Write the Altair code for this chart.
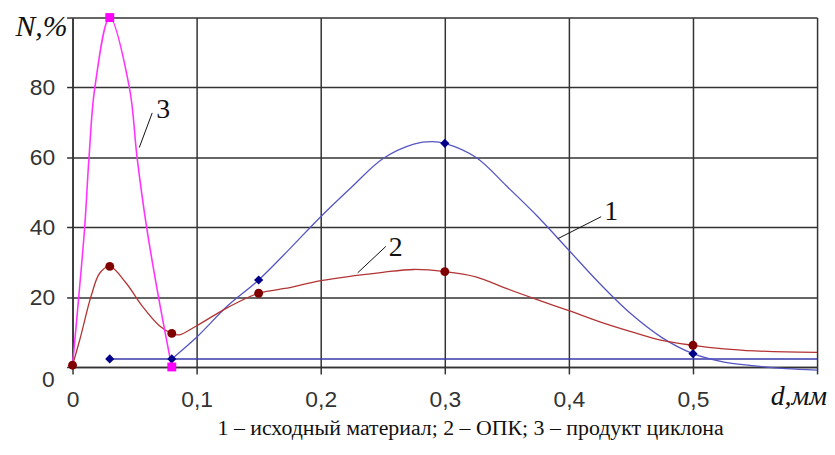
import altair as alt
import pandas as pd

# --- data points (markers) ---
d_pts1 = [0.03, 0.08, 0.15, 0.3, 0.5]
n_pts1 = [2.3, 2.3, 24.9, 64.0, 3.8]
d_pts2 = [0.0, 0.03, 0.08, 0.15, 0.3, 0.5]
n_pts2 = [0.5, 28.8, 9.6, 21.1, 27.3, 6.2]
d_pts3 = [0.03, 0.08]
n_pts3 = [100.0, 0.0]

# --- smooth curves ---
d_curve1 = [0.08, 0.1, 0.125, 0.15, 0.175, 0.2, 0.225, 0.25, 0.275, 0.29, 0.3,
            0.325, 0.35, 0.375, 0.4, 0.425, 0.45, 0.475, 0.5, 0.525, 0.55, 0.575, 0.6]
n_curve1 = [2.3, 8.5, 17.5, 24.9, 33.8, 43.0, 51.5, 59.6, 63.8, 64.5, 64.0,
            60.0, 51.7, 43.0, 33.4, 23.8, 15.2, 8.4, 3.8, 1.4, 0.3, -0.5, -0.9]
d_flat1 = [0.03, 0.6]
n_flat1 = [2.3, 2.3]

d_curve2 = [0.0, 0.006, 0.015, 0.022, 0.03, 0.043, 0.056, 0.07, 0.08, 0.086, 0.1,
            0.125, 0.15, 0.175, 0.2, 0.25, 0.275, 0.3, 0.325, 0.35, 0.375, 0.4,
            0.425, 0.45, 0.475, 0.5, 0.525, 0.55, 0.575, 0.6]
n_curve2 = [0.5, 8.0, 20.3, 26.9, 28.8, 24.1, 17.5, 11.8, 9.6, 9.2, 11.8,
            17.0, 21.1, 22.7, 24.7, 27.1, 27.9, 27.3, 25.8, 22.4, 19.2, 16.1,
            12.9, 10.1, 7.6, 6.2, 5.2, 4.6, 4.3, 4.2]

d_curve3 = [0.0, 0.005, 0.0098, 0.0133, 0.018, 0.03,
            0.0458, 0.052, 0.0597, 0.0693, 0.08]
n_curve3 = [0.5, 20.0, 40.0, 60.0, 80.0, 100.0,
            80.0, 60.0, 40.0, 20.0, 0.0]

# curve number labels and leader lines
lab_text = ["3", "1", "2"]
lab_d = [0.073, 0.434, 0.2605]
lab_n = [73.6, 44.4, 34.0]
lead_d = [0.0538, 0.391, 0.2298]
lead_n = [62.8, 36.7, 26.95]
lead_d2 = [0.0642, 0.426, 0.2525]
lead_n2 = [72.7, 43.0, 34.5]

x_ticks = [0, 0.1, 0.2, 0.3, 0.4, 0.5, 0.6]
y_ticks = [0, 20, 40, 60, 80, 100]

caption = "1 – исходный материал; 2 – ОПК; 3 – продукт циклона"

GRID = "#333333"
axis_x = alt.Axis(values=x_ticks,
                  labelExpr="datum.value > 0.55 ? '' : replace(format(datum.value, '.1~f'), '.', ',')",
                  grid=True, gridColor=GRID, gridWidth=1.5, domainColor=GRID, domainWidth=1.5,
                  tickColor=GRID, tickWidth=1.5, tickSize=7, labelFont="Liberation Sans",
                  labelFontSize=23, labelColor="#333333", labelPadding=15, title=None,
                  labelFlush=False, labelOverlap=False)
axis_y = alt.Axis(values=y_ticks,
                  labelExpr="datum.value == 0 || datum.value == 100 ? '' : datum.label",
                  grid=True, gridColor=GRID, gridWidth=1.5, domainColor=GRID, domainWidth=1.5,
                  tickColor=GRID, tickWidth=1.5, tickSize=6, labelFont="Liberation Sans",
                  labelFontSize=23, labelColor="#333333", labelPadding=12, title=None,
                  labelFlush=False, labelOverlap=False)

xs = alt.Scale(domain=[0, 0.6], nice=False, zero=False)
ys = alt.Scale(domain=[0, 100], nice=False, zero=False)
X = alt.X("d:Q", scale=xs, axis=axis_x)
Y = alt.Y("n:Q", scale=ys, axis=axis_y)


def df(d, n):
    return pd.DataFrame({"d": d, "n": n})


flat1 = alt.Chart(df(d_flat1, n_flat1)).mark_line(color="#3838a8", strokeWidth=1.6).encode(x=X, y=Y)
curve1 = alt.Chart(df(d_curve1, n_curve1)).mark_line(color="#5555c4", strokeWidth=1.3,
                                                      interpolate="catmull-rom").encode(x=X, y=Y)
curve2 = alt.Chart(df(d_curve2, n_curve2)).mark_line(color="#b33434", strokeWidth=1.3,
                                                      interpolate="catmull-rom").encode(x=X, y=Y)
curve3 = alt.Chart(df(d_curve3, n_curve3)).mark_line(color="#ff33ff", strokeWidth=1.6,
                                                      interpolate="catmull-rom").encode(x=X, y=Y)

pts1 = alt.Chart(df(d_pts1, n_pts1)).mark_point(shape="diamond", filled=True, color="#000088",
                                                size=85, opacity=1).encode(x=X, y=Y)
pts2 = alt.Chart(df(d_pts2, n_pts2)).mark_point(shape="circle", filled=True, color="#800000",
                                                size=80, opacity=1).encode(x=X, y=Y)
pts3 = alt.Chart(df(d_pts3, n_pts3)).mark_point(shape="square", filled=True, color="#ff00ff",
                                                size=80, opacity=1).encode(x=X, y=Y)

leaders = alt.Chart(pd.DataFrame({"d": lead_d, "n": lead_n, "d2": lead_d2, "n2": lead_n2})).mark_rule(
    color="#111111", strokeWidth=1).encode(x=X, y=Y, x2="d2:Q", y2="n2:Q")
labels = alt.Chart(pd.DataFrame({"d": lab_d, "n": lab_n, "t": lab_text})).mark_text(
    font="Liberation Serif", fontSize=28, color="#111111", align="center", baseline="middle"
).encode(x=X, y=Y, text="t:N")

n_title = alt.Chart(pd.DataFrame({"d": [0.0], "n": [100.0], "t": ["N,%"]})).mark_text(
    font="Liberation Serif", fontStyle="italic", fontSize=30, color="#111111",
    align="right", baseline="middle", dx=-5, dy=10).encode(x=X, y=Y, text="t:N")
d_title = alt.Chart(pd.DataFrame({"d": [0.6], "n": [0.0], "t": ["d,мм"]})).mark_text(
    font="Liberation Serif", fontStyle="italic", fontSize=28, color="#111111",
    align="right", baseline="middle", dx=10, dy=30).encode(x=X, y=Y, text="t:N")
y_zero = alt.Chart(pd.DataFrame({"d": [0.0], "n": [0.0], "t": ["0"]})).mark_text(
    font="Liberation Sans", fontSize=23, color="#333333",
    align="right", baseline="middle", dx=-18, dy=13).encode(x=X, y=Y, text="t:N")

chart = alt.layer(
    flat1, curve1, curve2, curve3, pts1, pts2, pts3, leaders, labels, n_title, d_title, y_zero
).properties(
    width=750, height=352,
    autosize=alt.AutoSizeParams(type="none"),
    padding={"left": 65, "top": 8, "right": 10, "bottom": 78},
    title=alt.TitleParams(text=caption, orient="bottom", anchor="middle", font="Liberation Serif",
                          fontSize=22, fontWeight="normal", color="#111111", offset=7, dx=26),
).configure_view(stroke=None)

chart.save("out.html", embed_options={"renderer": "svg", "actions": False})
